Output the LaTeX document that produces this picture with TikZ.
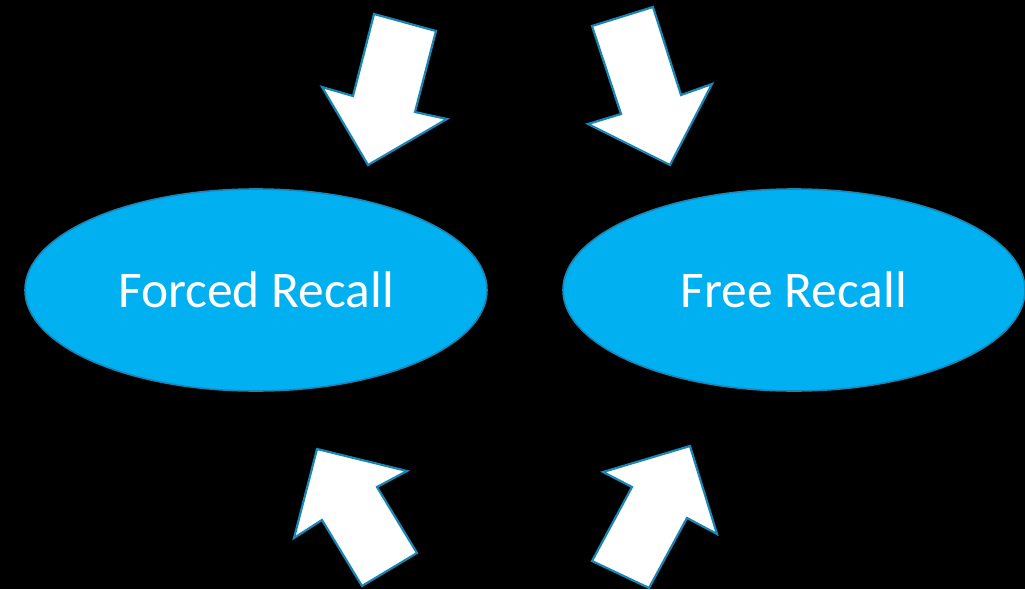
\documentclass[tikz,border=0pt]{standalone}
\usepackage{fontspec}
\setmainfont{Carlito}
\usetikzlibrary{shapes.geometric}
\definecolor{ovalfill}{HTML}{00B0F0}
\definecolor{ovalline}{HTML}{1A86B5}
\definecolor{arrowline}{HTML}{1A86B5}
\tikzset{
  oval/.style={ellipse, fill=ovalfill, draw=ovalline, line width=1.6pt,
    minimum width=462pt, minimum height=202pt, inner sep=0pt,
    text=white, font=\fontsize{51.5}{60}\selectfont},
  blockarrow/.style={fill=white, draw=arrowline, line width=2.2pt, line join=miter}
}
\begin{document}
\begin{tikzpicture}[x=1pt, y=-1pt]
  \fill[black] (0,0) rectangle (1025,589);
  \useasboundingbox (0,0) rectangle (1025,589);

  \node[oval] (forced) at (256,290) {Forced Recall};
  \node[oval] (free) at (794,290) {Free Recall};

  % arrows pointing down onto the ovals
  \draw[blockarrow] (374,14) -- (436,31) -- (415,112) -- (447,119)
    -- (368,165) -- (322,87) -- (353,96) -- cycle;
  \draw[blockarrow] (592,26) -- (653,7) -- (681,95) -- (712,84)
    -- (670,165) -- (588,124) -- (621,114) -- cycle;

  % arrows pointing up onto the ovals
  \draw[blockarrow] (317,449) -- (407,471) -- (377,487) -- (417,553)
    -- (362,586) -- (322,520) -- (294,538) -- cycle;
  \draw[blockarrow] (690,446) -- (717,534) -- (687,518) -- (649,588)
    -- (592,561) -- (632,487) -- (603,472) -- cycle;
\end{tikzpicture}
\end{document}
